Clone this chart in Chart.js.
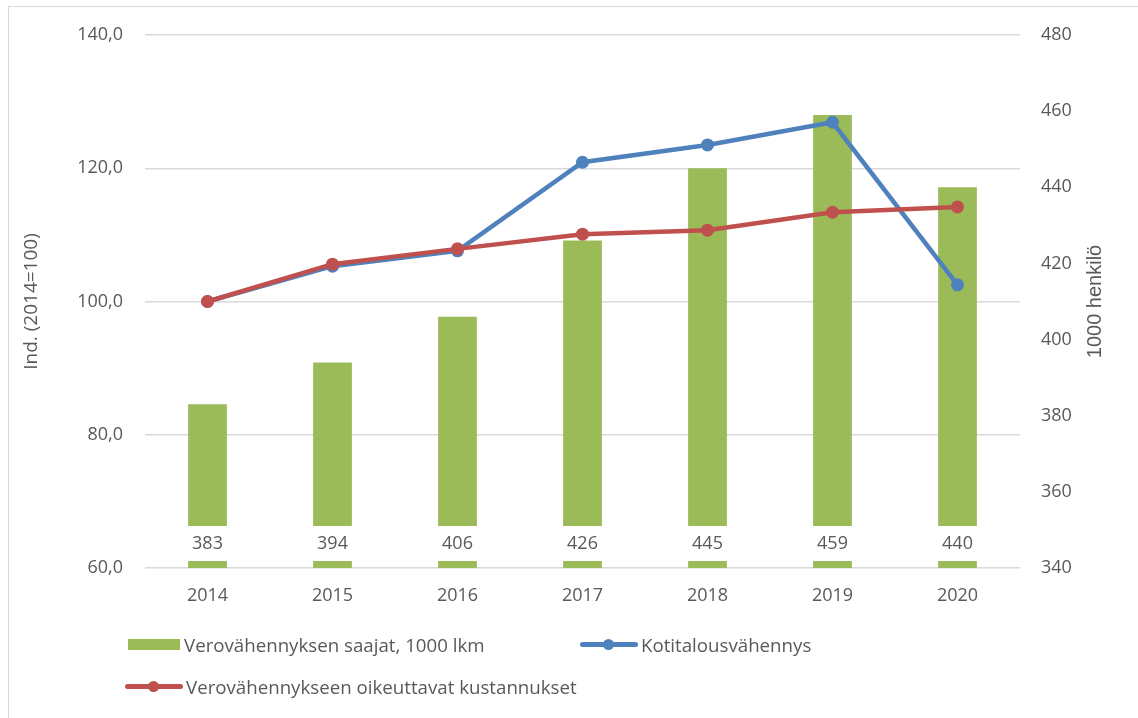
<!DOCTYPE html>
<html lang="fi">
<head>
<meta charset="utf-8">
<script src="https://cdn.jsdelivr.net/npm/chart.js@4.4.1/dist/chart.umd.min.js"></script>
<style>
  html, body { margin: 0; padding: 0; background: #fff; }
  body { width: 1138px; height: 718px; position: relative; overflow: hidden; font-family: "Open Sans", sans-serif; color: #595959; }
  #frame { position: absolute; left: 8px; top: 6px; width: 1140px; height: 720px; border: 1.5px solid #d9d9d9; box-sizing: border-box; }
  canvas { position: absolute; left: 0; top: 0; }
  .legend-item { position: absolute; display: flex; align-items: center; font-size: 18.7px; white-space: nowrap; }
  .swatch-bar { width: 52px; height: 11px; background: #9bbb59; margin-right: 4px; }
  .swatch-line { position: relative; width: 58px; height: 5px; border-radius: 3px; margin-right: 3px; }
  .swatch-line span { position: absolute; left: 23px; top: -3px; width: 11px; height: 11px; border-radius: 50%; }
</style>
</head>
<body>
<div id="frame"></div>
<canvas id="chart" width="1138" height="718"></canvas>
<div class="legend-item" style="left:128px; top:632px;"><div class="swatch-bar"></div>Verovähennyksen saajat, 1000 lkm</div>
<div class="legend-item" style="left:580px; top:632px;"><div class="swatch-line" style="background:#4f81bd"><span style="background:#4f81bd"></span></div>Kotitalousvähennys</div>
<div class="legend-item" style="left:125px; top:674px;"><div class="swatch-line" style="background:#c0504d"><span style="background:#c0504d"></span></div>Verovähennykseen oikeuttavat kustannukset</div>
<script>
(function () {
  "use strict";

  const years = ["2014", "2015", "2016", "2017", "2018", "2019", "2020"];
  const recipients = [383, 394, 406, 426, 445, 459, 440];
  const householdDeduction = [100, 105.3, 107.6, 120.9, 123.5, 126.9, 102.5];
  const eligibleCosts = [100, 105.6, 107.9, 110.1, 110.7, 113.4, 114.2];
  const leftTicks = [60, 80, 100, 120, 140];
  const rightTicks = [340, 360, 380, 400, 420, 440, 460, 480];

  const palette = {
    green: "#9bbb59",
    blue: "#4f81bd",
    red: "#c0504d",
    text: "#595959",
    grid: "#d9d9d9"
  };

  const fmt = v => Number(v).toFixed(1).replace(".", ",");

  // value labels at the base of each bar on a white box, plus the right axis title
  const extras = {
    id: "extras",
    afterDatasetsDraw(chart) {
      const ctx = chart.ctx;
      const meta = chart.getDatasetMeta(0);
      const base = chart.scales.y1.getPixelForValue(rightTicks[0]);
      ctx.save();
      meta.data.forEach((bar, i) => {
        const p = bar.getProps(["x", "width"], true);
        ctx.fillStyle = "#fff";
        ctx.fillRect(p.x - p.width / 2 - 1, base - 42, p.width + 2, 35);
        ctx.fillStyle = palette.text;
        ctx.font = "18px 'Open Sans', sans-serif";
        ctx.textAlign = "center";
        ctx.textBaseline = "middle";
        ctx.fillText(String(recipients[i]), p.x, base - 24);
      });
      const area = chart.chartArea;
      ctx.translate(1095, (area.top + area.bottom) / 2);
      ctx.rotate(-Math.PI / 2);
      ctx.font = "20px 'Liberation Sans Narrow', 'Liberation Sans', sans-serif";
      ctx.fillText("1000 henkilö", 0, 0);
      ctx.restore();
    }
  };

  Chart.defaults.font.family = "\"Open Sans\", sans-serif";
  Chart.defaults.color = palette.text;
  Chart.defaults.animation = false;

  new Chart(document.getElementById("chart"), {
    type: "bar",
    data: {
      labels: years,
      datasets: [
        {
          type: "bar",
          label: "Verovähennyksen saajat, 1000 lkm",
          data: recipients,
          backgroundColor: palette.green,
          yAxisID: "y1",
          barPercentage: 0.31,
          categoryPercentage: 1,
          order: 2
        },
        {
          type: "line",
          label: "Kotitalousvähennys",
          data: householdDeduction,
          borderColor: palette.blue,
          backgroundColor: palette.blue,
          borderWidth: 4.5,
          pointRadius: 6.5,
          pointBackgroundColor: palette.blue,
          pointBorderWidth: 0,
          tension: 0,
          yAxisID: "y",
          order: 1
        },
        {
          type: "line",
          label: "Verovähennykseen oikeuttavat kustannukset",
          data: eligibleCosts,
          borderColor: palette.red,
          backgroundColor: palette.red,
          borderWidth: 4.5,
          pointRadius: 6.5,
          pointBackgroundColor: palette.red,
          pointBorderWidth: 0,
          tension: 0,
          yAxisID: "y",
          order: 0
        }
      ]
    },
    options: {
      responsive: false,
      layout: { padding: { top: 35, left: 0, right: 0, bottom: 0 } },
      plugins: {
        legend: { display: false },
        tooltip: { enabled: false }
      },
      scales: {
        x: {
          grid: { display: false, drawTicks: false },
          border: { display: false },
          ticks: { padding: 17, font: { size: 18 } },
          afterFit: s => { s.height = 150; }
        },
        y: {
          position: "left",
          min: leftTicks[0],
          max: leftTicks[leftTicks.length - 1],
          afterBuildTicks: s => { s.ticks = leftTicks.map(v => ({ value: v })); },
          grid: { color: palette.grid, lineWidth: 1.5, drawTicks: false },
          border: { display: false },
          ticks: { padding: 22, font: { size: 18 }, callback: v => fmt(v) },
          title: { display: true, text: "Ind. (2014=100)", font: { size: 19 }, padding: { top: 20, bottom: 0 } },
          afterFit: s => { s.width = 145; }
        },
        y1: {
          position: "right",
          min: rightTicks[0],
          max: rightTicks[rightTicks.length - 1],
          afterBuildTicks: s => { s.ticks = rightTicks.map(v => ({ value: v })); },
          grid: { drawOnChartArea: false, drawTicks: false },
          border: { display: false },
          ticks: { padding: 21, font: { size: 18 } },
          afterFit: s => { s.width = 118; }
        }
      }
    },
    plugins: [extras]
  });
})();
</script>
</body>
</html>
